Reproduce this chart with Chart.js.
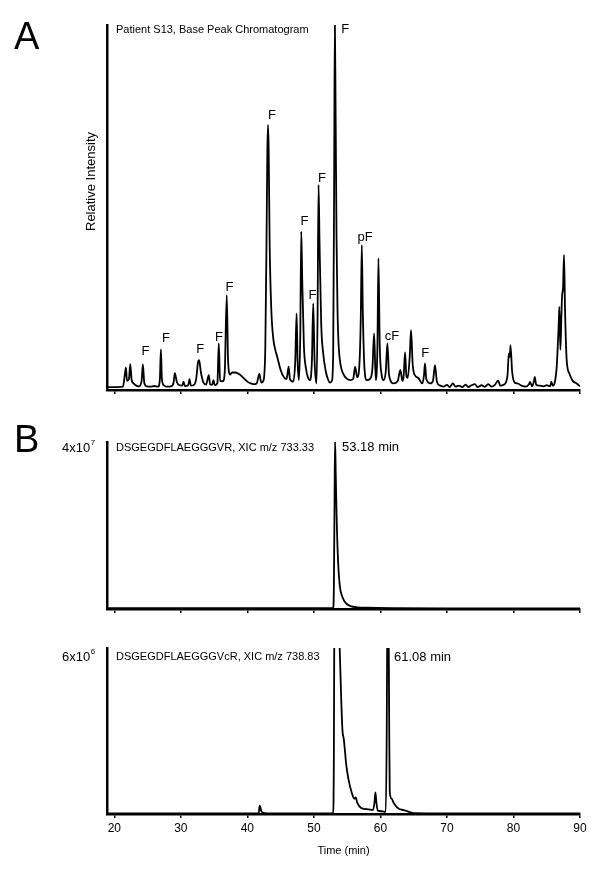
<!DOCTYPE html>
<html>
<head>
<meta charset="utf-8">
<script src="https://cdn.jsdelivr.net/npm/chart.js@4.4.0/dist/chart.umd.min.js"></script>
<style>
  body { margin: 0; background: #fff; }
  #wrap { position: relative; width: 600px; height: 869px; }
  canvas { position: absolute; left: 0; }
</style>
</head>
<body>
<div id="wrap">
  <canvas id="chartA" width="600" height="400" style="top:0px"></canvas>
  <canvas id="chartB1" width="600" height="215" style="top:400px"></canvas>
  <canvas id="chartB2" width="600" height="254" style="top:615px"></canvas>
</div>
<script>
// shared time axis
const timeTicks = [20, 30, 40, 50, 60, 70, 80, 90];

// A: base peak chromatogram (relative intensity, %)
const bpcTime = [19.0, 20.5, 21.3, 21.6, 21.75, 21.9, 22.2, 22.4, 22.6, 22.9, 23.3, 23.7, 24.1, 24.3, 24.5, 24.9,
  25.5, 26.0, 26.6, 26.85, 27.0, 27.15, 27.5, 28.0, 28.5, 28.9, 29.1, 29.4, 29.8, 30.2, 30.4, 30.6, 31.1, 31.3,
  31.5, 31.9, 32.3, 32.6, 32.75, 33.0, 33.4, 33.8, 34.2, 34.4, 34.7, 34.9, 35.1, 35.5, 35.7, 35.9, 36.3, 36.6,
  36.9, 37.1, 37.4, 37.7, 38.2, 38.8, 39.4, 40.0, 40.5, 40.9, 41.4, 41.8, 42.1, 42.4, 42.7, 42.9, 43.0, 43.1,
  43.2, 43.35, 43.6, 43.9, 44.2, 44.5, 45.0, 45.5, 45.9, 46.2, 46.4, 46.9, 47.2, 47.4, 47.55, 47.75, 47.95, 48.1,
  48.25, 48.5, 48.8, 49.1, 49.4, 49.7, 49.9, 50.1, 50.4, 50.55, 50.7, 50.85, 51.1, 51.4, 51.8, 52.1, 52.4, 52.7,
  52.9, 53.05, 53.15, 53.25, 53.4, 53.55, 53.7, 54.0, 54.4, 54.9, 55.5, 55.9, 56.2, 56.5, 56.85, 57.05, 57.2,
  57.35, 57.6, 57.95, 58.4, 58.8, 59.05, 59.3, 59.55, 59.7, 59.9, 60.2, 60.45, 60.8, 61.05, 61.3, 62.0, 62.6,
  63.0, 63.3, 63.5, 63.7, 63.9, 64.1, 64.4, 64.6, 64.85, 65.2, 65.7, 66.3, 66.55, 66.7, 66.9, 67.5, 67.9, 68.2,
  68.5, 69.0, 69.5, 70.0, 70.4, 70.9, 71.3, 71.8, 72.3, 72.8, 73.2, 73.7, 74.2, 74.6, 75.2, 75.7, 76.2, 76.7,
  77.2, 77.7, 78.0, 78.6, 79.1, 79.3, 79.45, 79.55, 79.8, 80.2, 80.6, 81.2, 81.8, 82.3, 82.5, 82.8, 83.1, 83.2,
  83.4, 83.9, 84.5, 85.0, 85.5, 85.7, 85.9, 86.2, 86.5, 86.8, 86.9, 87.05, 87.2, 87.3, 87.45, 87.6, 87.75, 88.0,
  88.4, 88.9, 89.5, 90.0];
const bpcIntensity = [0.8, 0.8, 0.9, 4.5, 6.1, 2.5, 3.0, 7.1, 2.8, 1.8, 1.2, 1.0, 2.5, 7.0, 2.0, 1.0,
  0.9, 1.1, 0.9, 3.0, 11.1, 3.0, 1.2, 0.9, 1.0, 2.0, 4.6, 2.2, 1.3, 1.2, 2.3, 1.1, 1.3, 3.0,
  1.2, 1.3, 3.0, 7.8, 8.2, 5.0, 2.0, 1.5, 4.1, 1.5, 1.4, 2.7, 1.3, 2.0, 12.8, 2.5, 2.4, 5.0,
  26.0, 8.0, 4.2, 4.8, 4.8, 4.3, 3.3, 2.3, 1.8, 1.6, 1.8, 4.4, 2.0, 2.5, 12, 45, 65, 72.6,
  66, 40, 22, 14, 11, 9, 5.5, 3.5, 3.0, 6.4, 3.0, 2.3, 8, 21, 8, 2.7, 15, 43.4,
  30, 12, 6, 3.5, 2.7, 8, 23.7, 8, 1.8, 20, 56.2, 40, 18, 10, 5, 3, 2.0, 2.5,
  10, 60, 101, 80, 42, 22, 13, 7, 4.5, 3.2, 2.7, 3.0, 6.4, 3.5, 7.3, 20, 39.7,
  22, 6, 2.7, 3.0, 6, 15.5, 2.7, 12, 36.1, 12, 4, 2.7, 5, 12.8, 4, 1.8, 2.5,
  5.5, 2.5, 4, 10.3, 4, 3.3, 9, 16.4, 7, 4, 3.3, 1.8, 4, 7.3, 3, 1.8, 2.5, 6.8,
  2.2, 1.2, 0.9, 1.4, 0.8, 1.8, 0.9, 1.2, 0.8, 1.5, 0.8, 1.3, 1.6, 0.8, 1.3, 0.9, 1.6, 0.9,
  1.4, 2.6, 1.2, 1.5, 4, 10, 9, 12.3, 5, 2, 1.8, 1.2, 0.9, 1.5, 2.2, 1.0, 2.6, 3.6,
  1.5, 1.2, 1.0, 1.3, 1.0, 2.3, 1.2, 2.0, 6.4, 18, 22.8, 11, 20, 25.6, 28, 37, 22, 8.2,
  4.5, 2.5, 1.8, 1.0];

// peak annotations in panel A (label, time, intensity level of label centre)
const peakLabels = ['F', 'F', 'F', 'F', 'F', 'F', 'F', 'F', 'F', 'F', 'pF', 'cF', 'F'];
const peakLabelTimes = [24.7, 27.77, 32.92, 35.73, 37.32, 43.69, 48.57, 49.79, 51.2, 54.7, 57.7, 61.72, 66.72];
const peakLabelLevels = [10.5, 14.2, 11.2, 14.3, 28.1, 75.3, 46.1, 26.0, 58.0, 98.8, 41.8, 14.6, 10.1];

// B top: XIC m/z 733.33 (x1e7)
const xic1Time = [19.0, 30, 45, 52.9, 53.0, 53.1, 53.18, 53.3, 53.45, 53.65, 53.9, 54.3, 54.8, 55.5, 56.5,
  58, 62, 70, 80, 90];
const xic1Intensity = [0.02, 0.02, 0.02, 0.02, 0.5, 2.5, 4.05, 3.1, 2.0, 1.1, 0.55, 0.28, 0.14, 0.07, 0.04,
  0.03, 0.02, 0.015, 0.015, 0.015];

// B bottom: XIC m/z 738.83 (x1e6)
const xic2Time = [19.0, 35, 41.7, 41.85, 41.95, 42.1, 42.3, 43, 52.9, 53.0, 53.1, 53.4, 53.7, 53.9, 54.1,
  54.3, 54.5, 54.7, 54.85, 55.2, 55.7, 56.1, 56.3, 56.5, 57.1, 58.2, 58.9, 59.1, 59.25, 59.4, 59.6, 60.2,
  60.8, 60.95, 61.05, 61.15, 61.3, 61.4, 61.7, 62.0, 62.7, 63.5, 64.3, 65, 70, 90];
const xic2Intensity = [0.02, 0.02, 0.03, 0.3, 0.25, 0.1, 0.05, 0.02, 0.02, 2.0, 9, 14, 8, 5.8, 4.2,
  3.0, 2.7, 2.2, 1.8, 1.25, 0.76, 0.55, 0.6, 0.42, 0.22, 0.17, 0.15, 0.4, 0.78, 0.4, 0.12, 0.1,
  0.08, 3, 8, 10, 4, 0.8, 0.55, 0.4, 0.2, 0.14, 0.08, 0.03, 0.02, 0.02];

const FONT = '"Liberation Sans", Arial, sans-serif';

function txt(ctx, s, x, y, size, align) {
  ctx.font = size + 'px ' + FONT;
  ctx.fillStyle = '#000';
  ctx.textAlign = align || 'left';
  ctx.textBaseline = 'middle';
  ctx.fillText(s, x, y);
}

function sciLabel(ctx, x, y, base, exp) {
  txt(ctx, base, x, y, 13);
  const w = ctx.measureText(base).width;
  txt(ctx, exp, x + w + 0.5, y - 5, 8);
}

function makeChart(id, times, values, o) {
  const pts = times.map((t, i) => ({ x: t, y: values[i] }));
  return new Chart(document.getElementById(id), {
    type: 'line',
    data: {
      datasets: [{
        data: pts,
        borderColor: '#000',
        borderWidth: 1.8,
        pointRadius: 0,
        cubicInterpolationMode: 'monotone',
        fill: false
      }]
    },
    options: {
      responsive: false,
      animation: false,
      layout: { padding: o.padding },
      plugins: { legend: { display: false }, tooltip: { enabled: false } },
      scales: {
        x: {
          type: 'linear',
          min: 18.9,
          max: 90,
          afterBuildTicks: s => { s.ticks = timeTicks.map(v => ({ value: v })); },
          afterFit: s => { s.height = o.xHeight; },
          grid: { display: true, drawOnChartArea: false, drawTicks: true, tickLength: 4, color: '#000', lineWidth: 1.5 },
          border: { display: true, color: '#000', width: 2.5 },
          ticks: { display: !!o.showTicks, color: '#000', font: { family: FONT, size: 12 }, padding: 3, maxRotation: 0 },
          title: {
            display: !!o.showTicks,
            text: 'Time (min)',
            color: '#000',
            font: { family: FONT, size: 11 },
            padding: { top: 0, bottom: 0 }
          }
        },
        y: {
          min: 0,
          max: o.yMax,
          afterFit: s => { s.width = 0; },
          grid: { display: false },
          ticks: { display: false },
          border: { display: true, color: '#000', width: 2.5 }
        }
      }
    },
    plugins: [{
      id: 'texts',
      afterDraw(chart) {
        const ctx = chart.ctx;
        ctx.save();
        o.draw(ctx, chart.chartArea, chart.scales);
        ctx.restore();
      }
    }]
  });
}

makeChart('chartA', bpcTime, bpcIntensity, {
  padding: { top: 25, left: 107, right: 20, bottom: 0 },
  xHeight: 10,
  yMax: 100,
  draw(ctx, area, sc) {
    ctx.font = '38px ' + FONT;
    ctx.fillStyle = '#000';
    ctx.textAlign = 'left';
    ctx.textBaseline = 'alphabetic';
    ctx.fillText('A', 14, 49);
    txt(ctx, 'Patient S13, Base Peak Chromatogram', area.left + 9, 30, 11);
    ctx.save();
    ctx.translate(91, 181.5);
    ctx.rotate(-Math.PI / 2);
    txt(ctx, 'Relative Intensity', 0, 0, 13, 'center');
    ctx.restore();
    peakLabels.forEach((s, i) => {
      txt(ctx, s, sc.x.getPixelForValue(peakLabelTimes[i]), sc.y.getPixelForValue(peakLabelLevels[i]), 13, 'center');
    });
  }
});

makeChart('chartB1', xic1Time, xic1Intensity, {
  padding: { top: 42, left: 107, right: 20, bottom: 0 },
  xHeight: 6,
  yMax: 4,
  draw(ctx, area) {
    ctx.font = '38px ' + FONT;
    ctx.fillStyle = '#000';
    ctx.textAlign = 'left';
    ctx.textBaseline = 'alphabetic';
    ctx.fillText('B', 14, 52);
    sciLabel(ctx, 62, 48, '4x10', '7');
    txt(ctx, 'DSGEGDFLAEGGGVR, XIC m/z 733.33', area.left + 9, 48, 11);
    txt(ctx, '53.18 min', 342, 47, 13);
  }
});

makeChart('chartB2', xic2Time, xic2Intensity, {
  padding: { top: 33, left: 107, right: 20, bottom: 11.4 },
  xHeight: 43.6,
  yMax: 6,
  showTicks: true,
  draw(ctx, area) {
    sciLabel(ctx, 62, 42, '6x10', '6');
    txt(ctx, 'DSGEGDFLAEGGGVcR, XIC m/z 738.83', area.left + 9, 42, 11);
    txt(ctx, '61.08 min', 394, 42, 13);
  }
});
</script>
</body>
</html>
